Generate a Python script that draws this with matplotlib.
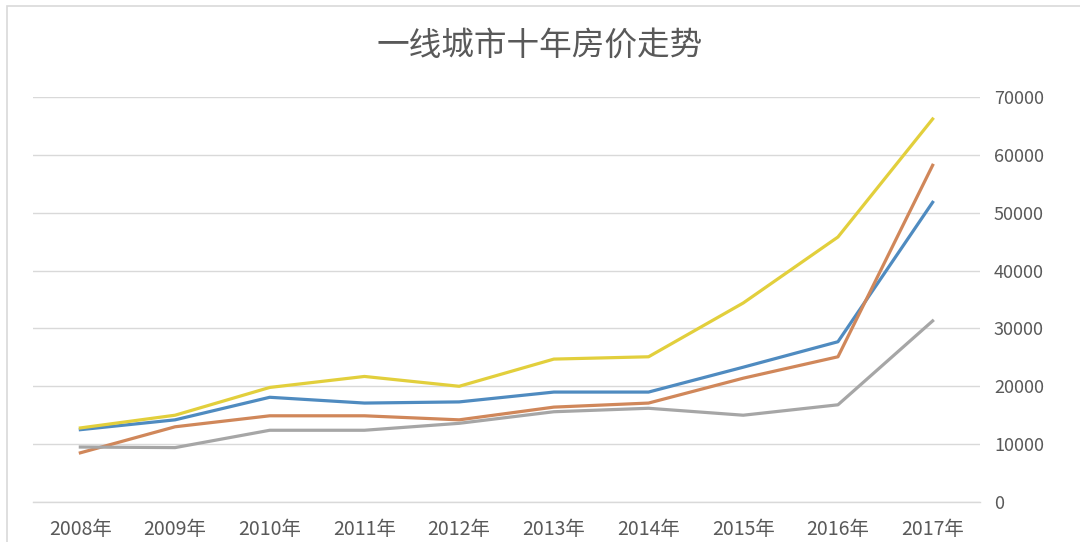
import numpy as np
import matplotlib
matplotlib.use("Agg")
import matplotlib.pyplot as plt
from matplotlib.patches import Rectangle

plt.rcParams['font.family'] = ['Noto Sans CJK SC', 'DejaVu Sans']

# data
years = ['2008年', '2009年', '2010年', '2011年', '2012年',
         '2013年', '2014年', '2015年', '2016年', '2017年']
blue = [12500, 14200, 18100, 17100, 17300, 19000, 19000, 23300, 27700, 51800]
orange = [8500, 13000, 14900, 14900, 14200, 16400, 17100, 21400, 25100, 58200]
gray = [9500, 9400, 12400, 12400, 13600, 15600, 16200, 15000, 16800, 31300]
yellow = [12800, 15000, 19800, 21700, 20000, 24700, 25100, 34400, 45800, 66200]

series = [(blue, '#4f8bc0'), (orange, '#d0875a'),
          (gray, '#a6a6a6'), (yellow, '#e2cf3c')]

fig = plt.figure(figsize=(10.8, 5.42), dpi=100)
ax = fig.add_axes([33 / 1080, 40 / 542, 947 / 1080, 405 / 542])

x = np.arange(len(years))
for vals, col in series:
    ax.plot(x, vals, color=col, lw=2.3, solid_joinstyle='round')

ax.set_xlim(-0.5, len(years) - 0.5)
ax.set_ylim(0, 70000)
ax.set_yticks(np.arange(0, 70001, 10000))
ax.set_xticks(x)
ax.set_xticklabels(years)
ax.yaxis.tick_right()
ax.grid(axis='y', color='#d9d9d9', lw=1)
ax.axhline(0, color='#d9d9d9', lw=1, clip_on=False, zorder=0)
ax.set_axisbelow(True)
for s in ax.spines.values():
    s.set_visible(False)
ax.tick_params(axis='both', length=0, colors='#595959')
ax.tick_params(axis='y', pad=10, labelsize=13)
ax.tick_params(axis='x', pad=12, labelsize=14)

fig.text(0.5, 0.915, '一线城市十年房价走势', ha='center', va='center',
         fontsize=23.5, color='#595959')

# faint frame around the chart
fig.patches.append(Rectangle((7 / 1080, -0.01), 1.1, 1 - 6 / 542 + 0.01,
                             transform=fig.transFigure, fill=False,
                             edgecolor='#d9d9d9', lw=1.2))

fig.savefig('out.png', dpi=100)
